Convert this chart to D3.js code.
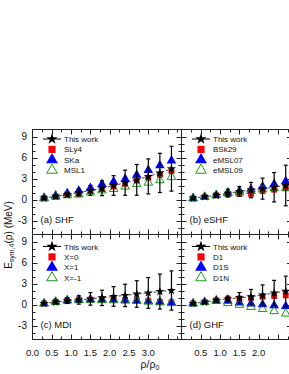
<!DOCTYPE html>
<html>
<head>
<meta charset="utf-8">
<script src="https://cdn.jsdelivr.net/npm/d3@7"></script>
<style>
  body { margin: 0; background: #fff; }
  svg { display: block; font-family: Arial, "Liberation Sans", sans-serif; }
</style>
</head>
<body>
<svg width="289" height="374"></svg>
<script>
// densities (rho/rho0)
const rhoLeft = [0.3, 0.6, 0.9, 1.2, 1.5, 1.8, 2.1, 2.4, 2.7, 3.0, 3.3, 3.6];
const rhoRight = [0.3, 0.6, 0.9, 1.2, 1.5, 1.8, 2.1, 2.4, 2.7];

// (a) SHF
const oursA = [0.2, 0.45, 0.7, 1.0, 1.3, 1.6, 2.0, 2.4, 2.8, 3.3, 3.8, 4.4];
const errA  = [0.15, 0.2, 0.3, 0.5, 0.7, 1.05, 1.4, 1.8, 2.2, 2.5, 2.8, 3.2];
const sly4  = [0.2, 0.4, 0.7, 0.85, 1.2, 1.5, 1.85, 2.25, 2.7, 3.1, 3.55, 4.05];
const ska   = [0.25, 0.55, 0.9, 1.25, 1.65, 2.2, 2.55, 2.95, 3.5, 4.2, 4.85, 5.55];
const msl1  = [0.15, 0.4, 0.6, 0.7, 1.0, 1.3, 1.5, 1.85, 2.2, 2.4, 2.75, 3.2];

// (b) eSHF
const oursB  = [0.2, 0.4, 0.6, 0.9, 1.15, 1.35, 1.55, 1.75, 2.0];
const errB   = [0.1, 0.15, 0.25, 0.55, 0.7, 1.1, 1.5, 2.1, 2.9];
const bsk29  = [0.15, 0.35, 0.6, 0.75, 0.8, 0.8, 1.2, 1.4, 1.65];
const emsl07 = [0.2, 0.4, 0.65, 1.0, 1.25, 1.45, 1.85, 2.2, 2.6];
const emsl09 = [0.15, 0.35, 0.6, 0.85, 1.0, 1.2, 1.45, 1.6, 1.6];

// (c) MDI
const oursC = [0.15, 0.35, 0.55, 0.65, 0.8, 0.95, 1.15, 1.3, 1.5, 1.65, 1.85, 2.0];
const errC  = [0.15, 0.25, 0.4, 0.6, 0.9, 1.1, 1.4, 1.6, 1.9, 2.2, 2.5, 2.8];
const mdiX0 = [0.15, 0.4, 0.6, 0.7, 0.7, 0.7, 0.7, 0.65, 0.6, 0.5, 0.4, 0.3];
const mdiX1 = [0.15, 0.4, 0.6, 0.7, 0.75, 0.7, 0.7, 0.65, 0.55, 0.5, 0.4, 0.3];
const mdiXm1 = [0.15, 0.35, 0.55, 0.65, 0.65, 0.65, 0.6, 0.55, 0.5, 0.4, 0.3, 0.2];

// (d) GHF
const oursD = [0.15, 0.35, 0.6, 0.8, 0.95, 1.1, 1.35, 1.65, 1.9];
const errD  = [0.1, 0.15, 0.2, 0.4, 0.75, 1.05, 1.45, 1.8, 2.15];
const d1    = [0.15, 0.35, 0.6, 0.75, 0.85, 0.95, 1.1, 1.2, 1.3];
const d1s   = [0.15, 0.35, 0.55, 0.5, 0.25, 0.1, 0.0, -0.15, -0.25];
const d1n   = [0.15, 0.35, 0.55, 0.2, -0.05, -0.35, -0.65, -0.95, -1.3];

const yTicks = [-3, 0, 3, 6, 9];
const xTicksLeft = [0, 0.5, 1.0, 1.5, 2.0, 2.5, 3.0];
const xTicksRight = [0.5, 1.0, 1.5, 2.0];

const svg = d3.select("svg");

const xL = d3.scaleLinear().domain([0, 3.86]).range([32.5, 181.5]);
const xR = d3.scaleLinear().domain([0, 2.86]).range([181.5, 291.9]);
const yTop = d3.scaleLinear().domain([-5, 10]).range([234.5, 129.5]);
const yBot = d3.scaleLinear().domain([-5, 10]).range([339.5, 234.5]);

const styles = [
  { type: d3.symbolSquare, size: 34, fill: "#ff0000", stroke: "none" },
  { type: d3.symbolTriangle, size: 40, fill: "#0000ff", stroke: "none" },
  { type: d3.symbolTriangle, size: 32, fill: "none", stroke: "#1a9a1a" }
];

const panels = [
  { label: "(a) SHF", x: xL, y: yTop, rho: rhoLeft, ours: oursA, err: errA,
    models: [["SLy4", sly4], ["SKa", ska], ["MSL1", msl1]], left: true, bottom: false, legY: 139 },
  { label: "(b) eSHF", x: xR, y: yTop, rho: rhoRight, ours: oursB, err: errB,
    models: [["BSk29", bsk29], ["eMSL07", emsl07], ["eMSL09", emsl09]], left: false, bottom: false, legY: 139 },
  { label: "(c) MDI", x: xL, y: yBot, rho: rhoLeft, ours: oursC, err: errC,
    models: [["X=0", mdiX0], ["X=1", mdiX1], ["X=-1", mdiXm1]], left: true, bottom: true, legY: 246.5 },
  { label: "(d) GHF", x: xR, y: yBot, rho: rhoRight, ours: oursD, err: errD,
    models: [["D1", d1], ["D1S", d1s], ["D1N", d1n]], left: false, bottom: true, legY: 246.5 }
];

const axisColor = "#222";

panels.forEach(p => {
  const g = svg.append("g");
  const [x0, x1] = p.x.range();
  const [yb, yt] = p.y.range();

  // frame
  g.append("rect").attr("x", x0).attr("y", yt).attr("width", x1 - x0).attr("height", yb - yt)
    .attr("fill", "none").attr("stroke", axisColor).attr("stroke-width", 1);

  // x ticks (inward, top and bottom)
  const xt = d3.range(0.25, p.x.domain()[1], 0.25);
  xt.forEach(v => {
    const major = Math.abs(v * 2 - Math.round(v * 2)) < 1e-6;
    const len = major ? 5 : 3;
    const px = Math.round(p.x(v)) + 0.5;
    g.append("line").attr("x1", px).attr("x2", px).attr("y1", yb).attr("y2", yb - len).attr("stroke", axisColor);
    g.append("line").attr("x1", px).attr("x2", px).attr("y1", yt).attr("y2", yt + len).attr("stroke", axisColor);
  });
  // y ticks (inward, left and right)
  d3.range(-4, 10, 1).forEach(v => {
    const major = v % 3 === 0;
    const len = major ? 5 : 3;
    const py = Math.round(p.y(v)) + 0.5;
    g.append("line").attr("x1", x0).attr("x2", x0 + len).attr("y1", py).attr("y2", py).attr("stroke", axisColor);
    g.append("line").attr("x1", x1).attr("x2", x1 - len).attr("y1", py).attr("y2", py).attr("stroke", axisColor);
  });

  if (p.left) {
    g.selectAll(".ylab").data(yTicks).enter().append("text")
      .attr("x", 27).attr("y", d => p.y(d) + 3.6)
      .attr("text-anchor", "end").attr("font-size", 10).attr("fill", "#111")
      .text(d => d);
  }
  if (p.bottom) {
    const ticks = p.left ? xTicksLeft : xTicksRight;
    g.selectAll(".xlab").data(ticks).enter().append("text")
      .attr("x", d => p.x(d)).attr("y", 356)
      .attr("text-anchor", "middle").attr("font-size", 9.5).attr("fill", "#111")
      .text(d => d.toFixed(1));
  }

  // model curves (markers only)
  p.models.forEach(([name, vals], i) => {
    const st = styles[i];
    g.selectAll(null).data(vals).enter().append("path")
      .attr("d", d3.symbol().type(st.type).size(st.size))
      .attr("transform", (d, k) => `translate(${p.x(p.rho[k])},${p.y(d)})`)
      .attr("fill", st.fill).attr("stroke", st.stroke).attr("stroke-width", 1);
  });

  // this work: dashed line, error bars, stars
  const line = d3.line().x((d, k) => p.x(p.rho[k])).y(d => p.y(d));
  g.append("path").datum(p.ours).attr("d", line)
    .attr("fill", "none").attr("stroke", "#444").attr("stroke-width", 1).attr("stroke-dasharray", "3,2");
  p.ours.forEach((v, k) => {
    const px = p.x(p.rho[k]);
    const ylo = p.y(v - p.err[k]), yhi = p.y(v + p.err[k]);
    g.append("line").attr("x1", px).attr("x2", px).attr("y1", ylo).attr("y2", yhi).attr("stroke", "#000").attr("stroke-width", 1.2);
    [ylo, yhi].forEach(yy => g.append("line").attr("x1", px - 2).attr("x2", px + 2).attr("y1", yy).attr("y2", yy)
      .attr("stroke", "#000").attr("stroke-width", 1.2));
  });
  g.selectAll(null).data(p.ours).enter().append("path")
    .attr("d", d3.symbol().type(d3.symbolStar).size(26))
    .attr("transform", (d, k) => `translate(${p.x(p.rho[k])},${p.y(d)})`)
    .attr("fill", "#000");

  // legend
  const lx = x0 + 19.5;
  const rowH = 10.4;
  const entries = [["This work", null]].concat(p.models);
  entries.forEach(([name], i) => {
    const yy = p.legY + i * rowH;
    if (i === 0) {
      g.append("line").attr("x1", lx - 9).attr("x2", lx + 9).attr("y1", yy).attr("y2", yy).attr("stroke", "#000");
      g.append("path").attr("d", d3.symbol().type(d3.symbolStar).size(40)).attr("transform", `translate(${lx},${yy})`).attr("fill", "#000");
    } else {
      const st = styles[i - 1];
      g.append("path").attr("d", d3.symbol().type(st.type).size(st.size * 1.5))
        .attr("transform", `translate(${lx},${yy})`)
        .attr("fill", st.fill).attr("stroke", st.stroke).attr("stroke-width", 1);
    }
    g.append("text").attr("x", lx + 12).attr("y", yy + 3).attr("font-size", 8).attr("fill", "#111").text(name);
  });

  // panel label
  g.append("text").attr("x", x0 + 8).attr("y", yb - 12).attr("font-size", 9.5).attr("fill", "#111").text(p.label);
});

// axis titles
const yt = svg.append("text").attr("transform", "translate(12,235) rotate(-90)")
  .attr("text-anchor", "middle").attr("font-size", 10).attr("fill", "#111");
yt.append("tspan").text("E");
yt.append("tspan").attr("font-size", 7).attr("dy", 2).text("sym,4");
yt.append("tspan").attr("dy", -2).text("(ρ) (MeV)");

const xtl = svg.append("text").attr("x", 150).attr("y", 368).attr("text-anchor", "middle")
  .attr("font-size", 10.5).attr("fill", "#111");
xtl.append("tspan").text("ρ/ρ");
xtl.append("tspan").attr("font-size", 7).attr("dy", 2).text("0");
</script>
</body>
</html>
